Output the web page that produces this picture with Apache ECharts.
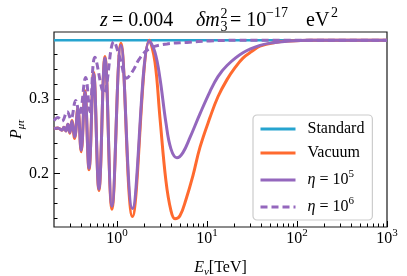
<!DOCTYPE html>
<html><head><meta charset="utf-8">
<script src="https://cdn.jsdelivr.net/npm/echarts@6/dist/echarts.min.js"></script>
<style>html,body{margin:0;padding:0;background:#fff}#c{width:407px;height:276px}</style>
</head><body><div id="c"></div>
<script>
// ---- data ----
const xMajorTicks = [1, 10, 100, 1000];
const xMinorTicks = [0.3,0.4,0.5,0.6,0.7,0.8,0.9,2,3,4,5,6,7,8,9,20,30,40,50,60,70,80,90,200,300,400,500,600,700,800,900];
const yMajorTicks = [0.2, 0.3];
const yMinorTicks = [0.14,0.16,0.18,0.22,0.24,0.26,0.28,0.32,0.34,0.36,0.38];

const E_std = [0.2, 1, 10, 100, 1000];
const P_std = [0.379, 0.379, 0.379, 0.379, 0.379];

const E_vac = [0.2,0.221,0.245,0.258,0.271,0.2855,0.300,0.316,0.339,0.368,0.401,0.441,0.490,0.551,0.631,0.736,0.880,1.108,1.487,2.297,2.644,3.005,3.503,3.981,4.41,5.01,5.85,6.99,8.36,10.8,13.25,16.7,20.5,25.1,31.6,38.8,57.0,83.6,139,1000];
const P_vac = [0.260,0.261,0.258,0.262,0.257,0.266,0.254,0.271,0.247,0.288,0.229,0.311,0.205,0.336,0.177,0.357,0.152,0.375,0.142,0.379,0.350,0.275,0.190,0.150,0.139,0.143,0.165,0.197,0.235,0.275,0.303,0.326,0.342,0.355,0.364,0.371,0.376,0.378,0.379,0.379];

const E_eta5 = [0.2,0.221,0.245,0.258,0.271,0.2855,0.300,0.316,0.339,0.368,0.401,0.441,0.490,0.551,0.631,0.736,0.880,1.108,1.487,2.297,2.644,3.005,3.503,3.981,4.64,5.41,6.47,8.36,10.8,13.25,16.7,25.1,38.8,57.0,83.6,139,1000];
const P_eta5 = [0.260,0.261,0.258,0.262,0.257,0.266,0.255,0.270,0.249,0.286,0.231,0.309,0.207,0.334,0.179,0.355,0.156,0.372,0.153,0.378,0.363,0.328,0.268,0.233,0.221,0.228,0.248,0.280,0.310,0.330,0.345,0.362,0.372,0.376,0.378,0.379,0.379];

const E_eta6 = [0.2,0.221,0.245,0.2805,0.308,0.348,0.383,0.449,0.501,0.569,0.717,0.926,1.08,1.282,1.506,1.80,2.326,3.594,5.995,10.8,23.3,1000];
const P_eta6 = [0.271,0.275,0.270,0.283,0.273,0.298,0.279,0.329,0.283,0.356,0.308,0.377,0.355,0.328,0.338,0.355,0.368,0.374,0.376,0.378,0.379,0.379];

const seriesNames = ['Standard', 'Vacuum', 'eta5', 'eta6'];
const legendLabels = {
  Standard: 'Standard',
  Vacuum: 'Vacuum',
  eta5: '{i|η} = 10{s|5}',
  eta6: '{i|η} = 10{s|6}'
};

// ---- chart ----
const F = '"Liberation Serif", "Times New Roman", serif';
const pairs = (E, P) => E.map((e, i) => [e, P[i]]);
const chart = echarts.init(document.getElementById('c'), null, {renderer: 'canvas'});

function t(text, x, y, fs, italic) {
  return {type: 'text', x: x, y: y, silent: true,
    style: {text: text, font: (italic ? 'italic ' : '') + fs + 'px ' + F, fill: '#000', textVerticalAlign: 'middle', textAlign: 'left'}};
}

const supRich = {
  b: {fontFamily: F, fontSize: 16, lineHeight: 16, verticalAlign: 'bottom', color: '#000'},
  s: {fontFamily: F, fontSize: 11, lineHeight: 11, verticalAlign: 'bottom', padding: [0, 0, 8, 0], color: '#000'},
  i: {fontFamily: F, fontSize: 16, lineHeight: 16, fontStyle: 'italic', verticalAlign: 'bottom', color: '#000'}
};

const option = {
  animation: false,
  backgroundColor: '#fff',
  grid: {left: 54, right: 20, top: 32, bottom: 49, show: true, borderColor: '#1a1a1a', borderWidth: 1.2,
         backgroundColor: 'transparent', containLabel: false, outerBoundsMode: 'none'},
  graphic: [
    t('z', 100, 20.4, 20, true),
    t('= 0.004', 112, 20.4, 20, false),
    t('δm', 196, 20.4, 20, true),
    t('2', 220.5, 14, 14, false),
    t('3', 220.5, 27, 14, false),
    t('= 10', 230, 20.4, 20, false),
    t('−17', 266, 13.5, 14, false),
    t('eV', 306, 20.4, 20, false),
    t('2', 331, 13.5, 14, false)
  ],
  legend: {
    orient: 'vertical', left: 253, top: 115,
    padding: [6, 8, 5, 6], itemGap: 8, itemWidth: 35, itemHeight: 15,
    backgroundColor: 'rgba(255,255,255,0.85)', borderColor: '#cccccc', borderWidth: 1.2, borderRadius: 4,
    itemStyle: {color: 'rgba(0,0,0,0)', borderWidth: 0, opacity: 0},
    lineStyle: {width: 3},
    data: seriesNames,
    formatter: n => legendLabels[n],
    textStyle: {fontFamily: F, fontSize: 16, color: '#000', padding: [0, 0, 0, 7],
      rich: {
        i: {fontFamily: F, fontSize: 16, fontStyle: 'italic', lineHeight: 16, verticalAlign: 'bottom', color: '#000'},
        s: {fontFamily: F, fontSize: 11, lineHeight: 11, verticalAlign: 'bottom', padding: [0, 0, 8, 0], color: '#000'}
      }}
  },
  xAxis: [
    {type: 'log', logBase: 10, min: 0.2, max: 1000, position: 'bottom',
     axisLine: {show: false}, splitLine: {show: false},
     axisTick: {inside: true, length: 6, lineStyle: {color: '#000', width: 1}, customValues: xMajorTicks},
     axisLabel: {customValues: xMajorTicks, margin: 4, formatter: v => '{b|10}{s|' + Math.round(Math.log10(v)) + '}', rich: supRich},
     name: '{i|E}{s|ν}{b|[TeV]}', nameLocation: 'middle', nameGap: 33,
     nameTextStyle: {rich: {
       i: {fontFamily: F, fontSize: 16, lineHeight: 16, fontStyle: 'italic', verticalAlign: 'top', color: '#000'},
       s: {fontFamily: F, fontSize: 11, lineHeight: 11, fontStyle: 'italic', verticalAlign: 'top', padding: [7, 0, 0, 0], color: '#000'},
       b: {fontFamily: F, fontSize: 16, lineHeight: 16, verticalAlign: 'top', color: '#000'}
     }}},
    {type: 'log', logBase: 10, min: 0.2, max: 1000, position: 'bottom',
     axisLine: {show: false}, splitLine: {show: false},
     axisTick: {inside: true, length: 3.5, lineStyle: {color: '#000', width: 1}, customValues: xMinorTicks},
     axisLabel: {show: false}}
  ],
  yAxis: [
    {type: 'value', min: 0.128, max: 0.39, position: 'left',
     axisLine: {show: false}, splitLine: {show: false},
     axisTick: {inside: true, length: 6, lineStyle: {color: '#000', width: 1}, customValues: yMajorTicks},
     axisLabel: {customValues: yMajorTicks, margin: 5, fontFamily: F, fontSize: 16, color: '#000', formatter: v => v.toFixed(1)},
     name: '{i|P}{s|μτ}', nameLocation: 'middle', nameGap: 29, nameRotate: 90, nameMoveOverlap: false,
     nameTextStyle: {rich: {
       i: {fontFamily: F, fontSize: 16, lineHeight: 16, fontStyle: 'italic', verticalAlign: 'top', color: '#000'},
       s: {fontFamily: F, fontSize: 11, lineHeight: 11, fontStyle: 'italic', verticalAlign: 'top', padding: [7, 0, 0, 0], color: '#000'}
     }}},
    {type: 'value', min: 0.128, max: 0.39, position: 'left',
     axisLine: {show: false}, splitLine: {show: false},
     axisTick: {inside: true, length: 3.5, lineStyle: {color: '#000', width: 1}, customValues: yMinorTicks},
     axisLabel: {show: false}}
  ],
  series: [
    {name: 'Standard', type: 'line', data: pairs(E_std, P_std), showSymbol: false, symbol: 'none',
     lineStyle: {color: '#26a4cf', width: 2.5}, itemStyle: {color: '#26a4cf'}},
    {name: 'Vacuum', type: 'line', data: pairs(E_vac, P_vac), showSymbol: false, symbol: 'none', smooth: 0.4,
     lineStyle: {color: '#ff6a2f', width: 3}, itemStyle: {color: '#ff6a2f'}},
    {name: 'eta5', type: 'line', data: pairs(E_eta5, P_eta5), showSymbol: false, symbol: 'none', smooth: 0.4,
     lineStyle: {color: '#9467bd', width: 3}, itemStyle: {color: '#9467bd'}},
    {name: 'eta6', type: 'line', data: pairs(E_eta6, P_eta6), showSymbol: false, symbol: 'none', smooth: 0.4,
     lineStyle: {color: '#9467bd', width: 3, type: [7, 4]}, itemStyle: {color: '#9467bd'}}
  ]
};
chart.setOption(option);
</script>
</body></html>
